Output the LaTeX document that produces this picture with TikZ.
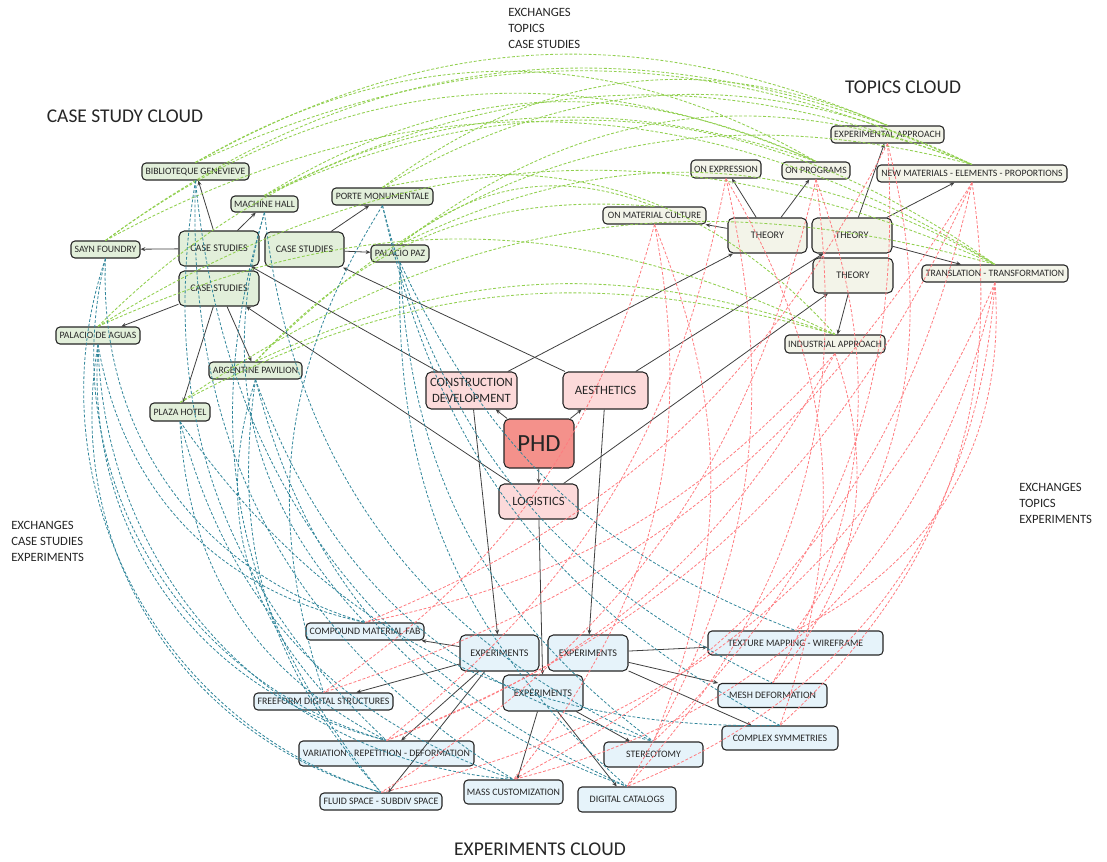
\documentclass[tikz,border=0pt]{standalone}
\usepackage{fontspec}
\setmainfont{Carlito}
\usetikzlibrary{arrows.meta}
\definecolor{csfill}{HTML}{E2EFDA}
\definecolor{tpfill}{HTML}{F3F4E9}
\definecolor{ctfill}{HTML}{FCDADA}
\definecolor{phdfill}{HTML}{F4918B}
\definecolor{exfill}{HTML}{E6F3FA}
\definecolor{gline}{HTML}{92D050}
\definecolor{bline}{HTML}{31869B}
\definecolor{rline}{HTML}{FF7C80}
\definecolor{dk}{HTML}{262626}
\definecolor{ar}{HTML}{404040}
\begin{document}
\begin{tikzpicture}[x=0.75pt,y=0.75pt,
  box/.style={draw=dk,line width=0.8pt,rounded corners=3pt,inner sep=0pt,text=dk,anchor=center},
  bw/.style={minimum width=#1*0.75pt},
  bh/.style={minimum height=#1*0.75pt},
  leaf/.style={box,font=\fontsize{7.3}{8}\selectfont},
  hub/.style={box,rounded corners=4pt,font=\fontsize{7.6}{8}\selectfont},
  cs/.style={leaf,fill=csfill},
  cshub/.style={hub,fill=csfill},
  tp/.style={leaf,fill=tpfill},
  tphub/.style={hub,fill=tpfill},
  ex/.style={leaf,font=\fontsize{7.4}{8}\selectfont,fill=exfill},
  exhub/.style={hub,fill=exfill},
  ctr/.style={box,rounded corners=4pt,fill=ctfill,font=\fontsize{9.5}{12.6}\selectfont,align=center},
  arr/.style={draw=ar,line width=0.6pt,-{Stealth[length=3.6pt,width=3pt]}},
  gd/.style={draw=gline,line width=0.65pt,dash pattern=on 2.2pt off 1.4pt},
  bd/.style={draw=bline,line width=0.6pt,dash pattern=on 2.2pt off 1.4pt},
  rd/.style={draw=rline,line width=0.6pt,dash pattern=on 2.2pt off 1.4pt},
  title/.style={font=\fontsize{14.6}{16}\selectfont,text=dk,inner sep=0pt},
  xch/.style={font=\fontsize{9.5}{12}\selectfont,align=left,anchor=north west,text=dk,inner sep=0pt}
]
\useasboundingbox[fill=white] (0,0) rectangle (1107,-861);

% titles and exchange labels
\node[title] (tcs) at (125,-116) {CASE STUDY CLOUD};
\node[title] (ttp) at (903,-87) {TOPICS CLOUD};
\node[title] (tex) at (540,-849) {EXPERIMENTS CLOUD};
\node[xch] (x1) at (508,-7.8) {EXCHANGES\\TOPICS\\CASE STUDIES};
\node[xch] (x2) at (1019,-482.8) {EXCHANGES\\TOPICS\\EXPERIMENTS};
\node[xch] (x3) at (11,-520.8) {EXCHANGES\\CASE STUDIES\\EXPERIMENTS};

% case study cloud
\node[cs,bw=107,bh=17] (bg) at (195.5,-171.5) {BIBLIOTEQUE GENEVIEVE};
\node[cs,bw=67,bh=16] (mh) at (264.5,-204) {MACHINE HALL};
\node[cs,bw=101,bh=17] (pm) at (382.5,-196.5) {PORTE MONUMENTALE};
\node[cs,bw=69,bh=17] (sf) at (105.5,-249.5) {SAYN FOUNDRY};
\node[cshub,bw=80,bh=35] (cs1) at (219,-248.5) {CASE STUDIES};
\node[cshub,bw=79,bh=35] (cs2) at (304.5,-249.5) {CASE STUDIES};
\node[cs,bw=58,bh=17] (pp) at (400,-253.5) {PALACIO PAZ};
\node[cshub,bw=80,bh=35] (cs3) at (219,-288.5) {CASE STUDIES};
\node[cs,bw=84,bh=17] (pa) at (98,-335.5) {PALACIO DE AGUAS};
\node[cs,bw=93,bh=17] (ap) at (255.5,-370.5) {ARGENTINE PAVILION};
\node[cs,bw=60,bh=18] (ph) at (180,-412) {PLAZA HOTEL};

% topics cloud
\node[tp,bw=113,bh=17] (ea) at (887.5,-134.5) {EXPERIMENTAL APPROACH};
\node[tp,bw=70,bh=18] (oe) at (726,-169) {ON EXPRESSION};
\node[tp,bw=68,bh=17] (op) at (816,-170.5) {ON PROGRAMS};
\node[tp,bw=190,bh=17] (nm) at (972,-173.5) {NEW MATERIALS - ELEMENTS - PROPORTIONS};
\node[tp,bw=103,bh=17] (omc) at (654.5,-215.5) {ON MATERIAL CULTURE};
\node[tphub,bw=79,bh=35] (t1) at (767.5,-235.5) {THEORY};
\node[tphub,bw=80,bh=35] (t2) at (852,-235.5) {THEORY};
\node[tphub,bw=80,bh=35] (t3) at (853,-275.5) {THEORY};
\node[tp,bw=146,bh=17] (tt) at (995,-273.5) {TRANSLATION - TRANSFORMATION};
\node[tp,bw=100,bh=18] (ia) at (835,-344) {INDUSTRIAL APPROACH};

% center
\node[ctr,bw=91,bh=37] (cd) at (471.5,-390.5) {CONSTRUCTION\\DEVELOPMENT};
\node[ctr,bw=85,bh=37] (ae) at (605.5,-390.5) {AESTHETICS};
\node[ctr,fill=phdfill,bw=70,bh=49,font=\fontsize{18.5}{20}\selectfont] (phd) at (539,-443.5) {PHD};
\node[ctr,bw=79,bh=35] (lg) at (538.5,-501.5) {LOGISTICS};

% experiments cloud
\node[ex,bw=118,bh=17] (cmf) at (365,-631.5) {COMPOUND MATERIAL FAB};
\node[exhub,bw=79,bh=36] (e1) at (499.5,-653) {EXPERIMENTS};
\node[exhub,bw=80,bh=36] (e2) at (588,-653) {EXPERIMENTS};
\node[exhub,bw=80,bh=36] (e3) at (543,-693) {EXPERIMENTS};
\node[ex,bw=139,bh=17] (fds) at (323.5,-701.5) {FREEFORM DIGITAL STRUCTURES};
\node[ex,bw=175,bh=25] (vrd) at (386.5,-753.5) {VARIATION - REPETITION - DEFORMATION};
\node[ex,bw=122,bh=17] (fs) at (381,-801.5) {FLUID SPACE - SUBDIV SPACE};
\node[ex,bw=99,bh=24] (mc) at (513.5,-792) {MASS CUSTOMIZATION};
\node[ex,bw=98,bh=25] (dc) at (627,-799.5) {DIGITAL CATALOGS};
\node[ex,bw=175,bh=24] (tm) at (795.5,-643) {TEXTURE MAPPING - WIREFRAME};
\node[ex,bw=109,bh=24] (md) at (772.5,-695.5) {MESH DEFORMATION};
\node[ex,bw=116,bh=24] (csy) at (780,-738) {COMPLEX SYMMETRIES};
\node[ex,bw=99,bh=25] (st) at (653.5,-754.5) {STEREOTOMY};

% solid arrows
\foreach \a/\b in {cs1/bg,cs1/mh,cs1/sf,cs2/pm,cs2/pp,cs3/pa,cs3/ph,cs3/ap,
  cd/cs1,ae/cs2,lg/cs3,cd/t1,ae/t2,lg/t3,
  t1/omc,t1/oe,t1/op,t2/ea,t2/nm,t2/tt,t3/ia,
  phd/cd,phd/ae,phd/lg,cd/e1,lg/e3,ae/e2,
  e1/cmf,e1/fds,e1/vrd,e1/fs,e2/tm,e2/md,e2/csy,e3/mc,e3/st,e3/dc}
  \draw[arr] (\a) -- (\b);

% green exchanges: case studies - topics
\foreach \a/\b/\c in {bg/nm/24,bg/ea/26,bg/op/30,mh/nm/24,mh/tt/30,mh/op/28,
  pm/ea/30,pm/nm/28,pm/ia/30,sf/ea/28,sf/op/30,sf/tt/30,pp/nm/30,pp/tt/28,pp/omc/30,
  pa/ia/25,pa/op/32,pa/tt/28,ap/ia/22,ap/nm/30,ap/omc/26,ph/tt/25,ph/ia/22}
  \draw[gd] (\a.north) to[bend left=\c] (\b.north);

% blue exchanges: case studies - experiments
\foreach \a/\b/\c in {bg/dc/30,bg/mc/30,bg/vrd/28,mh/st/30,mh/fs/28,mh/cmf/30,
  pm/csy/25,pm/fds/25,pm/md/25,sf/fs/46,sf/vrd/44,sf/cmf/38,pp/st/25,pp/dc/25,pp/tm/22,
  pa/fs/42,pa/vrd/40,pa/mc/42,pa/cmf/34,ap/fds/30,ap/st/28,ap/dc/28,ap/fs/25,
  ph/mc/28,ph/csy/28,ph/vrd/30}
  \draw[bd] (\a.south) to[bend right=\c] (\b.north);

% red exchanges: topics - experiments
\foreach \a/\b/\c in {omc/mc/25,omc/st/22,omc/fds/20,oe/dc/22,oe/vrd/20,oe/csy/25,
  op/fs/22,op/md/25,op/dc/25,ea/st/25,ea/cmf/20,ea/tm/25,nm/vrd/22,nm/mc/25,nm/fds/20,
  nm/csy/28,tt/mc/32,tt/fs/27,tt/tm/34,tt/dc/32,ia/vrd/20,ia/md/30,ia/cmf/18}
  \draw[rd] (\a.south) to[bend left=\c] (\b.north);
\end{tikzpicture}
\end{document}
